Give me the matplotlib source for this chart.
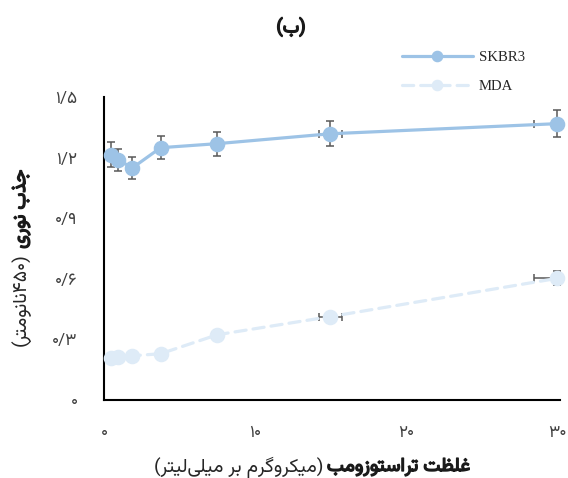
import glob
import matplotlib
matplotlib.use("Agg")
import matplotlib.pyplot as plt
from matplotlib import font_manager
import matplotlib.patheffects as pe

# ---- data -----------------------------------------------------------------
conc = [0.47, 0.94, 1.88, 3.75, 7.5, 15, 30]          # trastuzumab, ug/mL
conc_err = [0.02, 0.05, 0.09, 0.19, 0.38, 0.75, 1.5]
skbr3 = [1.214, 1.189, 1.149, 1.249, 1.269, 1.318, 1.368]
skbr3_err = [0.062, 0.055, 0.055, 0.057, 0.060, 0.062, 0.067]
mda = [0.209, 0.214, 0.219, 0.229, 0.323, 0.413, 0.602]
mda_err = [0.010, 0.010, 0.010, 0.010, 0.025, 0.020, 0.035]
series_names = ["SKBR3", "MDA"]
yticks = [0, 0.3, 0.6, 0.9, 1.2, 1.5]
ytick_labels = ["۰", "۰/۳", "۰/۶", "۰/۹", "۱/۲", "۱/۵"]
xticks = [0, 10, 20, 30]
xtick_labels = ["۰", "۱۰", "۲۰", "۳۰"]

# ---- Persian text shaping (presentation forms, visual order) --------------
FORMS = {  # isolated, final, initial, medial
    "ا": ("\uFE8D", "\uFE8E", None, None),
    "ب": ("\uFE8F", "\uFE90", "\uFE91", "\uFE92"),
    "ت": ("\uFE95", "\uFE96", "\uFE97", "\uFE98"),
    "ج": ("\uFE9D", "\uFE9E", "\uFE9F", "\uFEA0"),
    "ذ": ("\uFEAB", "\uFEAC", None, None),
    "ر": ("\uFEAD", "\uFEAE", None, None),
    "ز": ("\uFEAF", "\uFEB0", None, None),
    "س": ("\uFEB1", "\uFEB2", "\uFEB3", "\uFEB4"),
    "ظ": ("\uFEC5", "\uFEC6", "\uFEC7", "\uFEC8"),
    "غ": ("\uFECD", "\uFECE", "\uFECF", "\uFED0"),
    "ل": ("\uFEDD", "\uFEDE", "\uFEDF", "\uFEE0"),
    "م": ("\uFEE1", "\uFEE2", "\uFEE3", "\uFEE4"),
    "ن": ("\uFEE5", "\uFEE6", "\uFEE7", "\uFEE8"),
    "و": ("\uFEED", "\uFEEE", None, None),
    "ی": ("\uFBFC", "\uFBFD", "\uFBFE", "\uFBFF"),
    "ک": ("\uFB8E", "\uFB8F", "\uFB90", "\uFB91"),
    "گ": ("\uFB92", "\uFB93", "\uFB94", "\uFB95"),
}


def shape_word(word):
    chars = list(word)
    out = []
    for i, c in enumerate(chars):
        if c not in FORMS:
            if c != "\u200c":
                out.append(c)
            continue
        prev_c = chars[i - 1] if i > 0 else None
        next_c = chars[i + 1] if i + 1 < len(chars) else None
        joins_prev = prev_c in FORMS and FORMS[prev_c][2] is not None
        joins_next = next_c in FORMS and FORMS[c][2] is not None
        iso, fin, ini, med = FORMS[c]
        if joins_prev and joins_next:
            out.append(med)
        elif joins_prev:
            out.append(fin)
        elif joins_next:
            out.append(ini)
        else:
            out.append(iso)
    return "".join(reversed(out))


def rtl(words):
    return " ".join(shape_word(w) for w in reversed(words))


# ---- fonts -----------------------------------------------------------------
fa_family = ["DejaVu Sans"]
for path in glob.glob("/usr/share/fonts/**/Vazirmatn*.ttf", recursive=True):
    font_manager.fontManager.addfont(path)
    fa_family = [font_manager.FontProperties(fname=path).get_name(), "DejaVu Sans"]
    break

plt.rcParams["font.family"] = fa_family

BLUE = "#9DC3E6"
PALE = "#DEEBF7"
ERR = "#595959"
TXT = "#404040"
LABEL_SIZE = 13.8

W, H = 568, 478
fig = plt.figure(figsize=(W / 100, H / 100), dpi=100)
ax = fig.add_axes([104 / W, 78 / H, 456 / W, 303 / H])


def px(x, y):
    return x / W, 1 - y / H


# error bars underneath, markers and lines on top
for yv, ye in ((skbr3, skbr3_err), (mda, mda_err)):
    ax.errorbar(conc, yv, yerr=ye, xerr=conc_err, fmt="none", ecolor=ERR,
                elinewidth=1.1, capsize=3.2, capthick=1.1, zorder=2)

l1, = ax.plot(conc, skbr3, color=BLUE, lw=2.3, marker="o", ms=10.2,
              mfc=BLUE, mec=BLUE, solid_capstyle="round", zorder=3,
              clip_on=False, label=series_names[0])
l2, = ax.plot(conc, mda, color=PALE, lw=2.3, ls=(0, (3.5, 2.2)), marker="o",
              ms=10.2, mfc=PALE, mec=PALE, dash_capstyle="round", zorder=3,
              clip_on=False, label=series_names[1])

ax.set_xlim(0, 30.2)
ax.set_ylim(0, 1.5)
ax.set_xticks(xticks, xtick_labels)
ax.set_yticks(yticks, ytick_labels)
ax.tick_params(length=0, labelsize=12.3, labelcolor=TXT)
ax.tick_params(axis="y", pad=19)
ax.tick_params(axis="x", pad=18)
for s in ("top", "right"):
    ax.spines[s].set_visible(False)
for s in ("left", "bottom"):
    ax.spines[s].set_linewidth(1.5)
    ax.spines[s].set_color("black")

leg = fig.legend(handles=[l1, l2], loc="center left",
                 bbox_to_anchor=px(402, 72), frameon=False, borderpad=0,
                 borderaxespad=0, handlelength=4.8, handletextpad=0.4,
                 labelspacing=1.05, markerscale=0.72,
                 prop=font_manager.FontProperties(family="Liberation Serif", size=10.6))
for t in leg.get_texts():
    t.set_color("#262626")

bold = [pe.withStroke(linewidth=1.0, foreground="#1a1a1a")]

# title
fig.text(*px(291, 27), "(" + shape_word("ب") + ")", ha="center", va="center",
         fontsize=13.5, color="#1a1a1a", path_effects=bold)

# x-axis title: bold run on the right, unit in parentheses on the left
xb = fig.text(*px(470, 467), rtl(["غلظت", "تراستوزومب"]), ha="right",
              va="center", fontsize=LABEL_SIZE, color="#1a1a1a", path_effects=bold)
# y-axis title: bold run on top, unit below
yb = fig.text(*px(21, 170), rtl(["جذب", "نوری"]), ha="center", va="top",
              rotation=90, fontsize=LABEL_SIZE, color="#1a1a1a", path_effects=bold)

fig.canvas.draw()
r = fig.canvas.get_renderer()
bx = xb.get_window_extent(r)
fig.text(bx.x0 / W - 4 / W, 1 - 467 / H,
         "(" + rtl(["میکروگرم", "بر", "میلی\u200cلیتر"]) + ")",
         ha="right", va="center", fontsize=LABEL_SIZE, color="#262626")
by = yb.get_window_extent(r)
fig.text(21 / W, by.y0 / H - 4 / H,
         "(" + shape_word("نانومتر") + "۴۵۰" + ")",
         ha="center", va="top", rotation=90, fontsize=LABEL_SIZE, color="#262626")

fig.savefig("out.png", dpi=100)
